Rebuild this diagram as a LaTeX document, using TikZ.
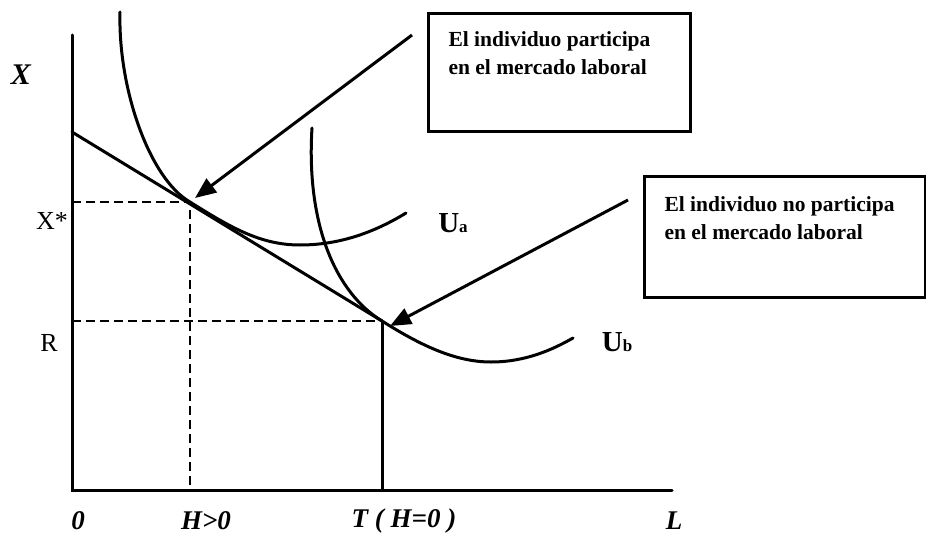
\documentclass[tikz,border=0pt]{standalone}
\usepackage{fontspec}
\setmainfont{Liberation Serif}
\usetikzlibrary{arrows.meta}
\newcommand{\boxtext}[4]{\parbox[c][#1][t]{#2}{\parindent=0pt\leftskip=20pt\rightskip=0pt plus 1fil\vspace*{#3}#4\par}}
\begin{document}
\begin{tikzpicture}[x=1pt,y=-1pt,
  ln/.style={line width=3pt, line cap=round},
  dsh/.style={line width=2.8pt, dash pattern=on 9pt off 5pt},
  pointer/.style={line width=3pt, -{Triangle[length=21pt,width=17pt]}},
  infobox/.style={draw, line width=3pt, inner sep=0pt, anchor=north west,
    font=\fontsize{21.5}{28}\selectfont\bfseries},
  axlabel/.style={font=\fontsize{27}{27}\selectfont\bfseries\itshape},
  vallabel/.style={font=\fontsize{26}{26}\selectfont},
  ulabel/.style={font=\fontsize{29}{29}\selectfont\bfseries}]
\useasboundingbox (0,0) rectangle (926,535);
% key points
\coordinate (O) at (72,490);
\coordinate (Ytop) at (72,35);
\coordinate (Xend) at (672,490);
\coordinate (I0) at (72,132);
\coordinate (A) at (190,202);
\coordinate (B) at (382,321);
\coordinate (Ay) at (72,202);
\coordinate (Ax) at (190,490);
\coordinate (By) at (72,321);
\coordinate (Bx) at (382,490);
% axes
\draw[ln] (Ytop) -- (O) -- (Xend);
% budget line
\draw[ln] (I0) -- (B);
% dashed guides
\draw[dsh] (Ay) -- (A) -- (Ax);
\draw[dsh] (By) -- (B);
\draw[line width=3pt] (B) -- (Bx);
% indifference curves
\draw[ln] (120,12) .. controls (118,90) and (150,179) .. (A)
  .. controls (230,227) and (260,245) .. (300,245)
  .. controls (340,245) and (375,232) .. (406,213);
\draw[ln] (312,128) .. controls (306,225) and (336,293) .. (B)
  .. controls (420,345) and (455,362) .. (491,362)
  .. controls (525,362) and (552,350) .. (573,338);
% boxes
\node[infobox] (p1) at (427,12) {\boxtext{118pt}{262pt}{18.5pt}{El individuo participa\\en el mercado laboral}};
\node[infobox] (p2) at (643,175) {\boxtext{121pt}{281pt}{20.5pt}{El individuo no participa\\en el mercado laboral}};
% arrows
\coordinate (t1) at (412,35);
\coordinate (h1) at (195,198);
\coordinate (t2) at (628,200);
\coordinate (h2) at (390,326);
\draw[pointer] (t1) -- (h1);
\draw[pointer] (t2) -- (h2);
% labels
\node[font=\fontsize{30}{30}\selectfont\bfseries\itshape] (lX) at (21,75) {X};
\node[vallabel] (lXs) at (52,221) {X*};
\node[vallabel] (lR) at (49,343) {R};
\node[ulabel] (lUa) at (453,223) {U\raisebox{0pt}{\fontsize{17}{17}\selectfont a}};
\node[ulabel] (lUb) at (617,342) {U\raisebox{0pt}{\fontsize{17}{17}\selectfont b}};
\node[axlabel] (l0) at (78,521) {0};
\node[axlabel] (lH) at (206,521) {H>0};
\node[axlabel] (lT) at (404,521) {T ( H=0 )};
\node[axlabel] (lL) at (674,521) {L};
\end{tikzpicture}
\end{document}
